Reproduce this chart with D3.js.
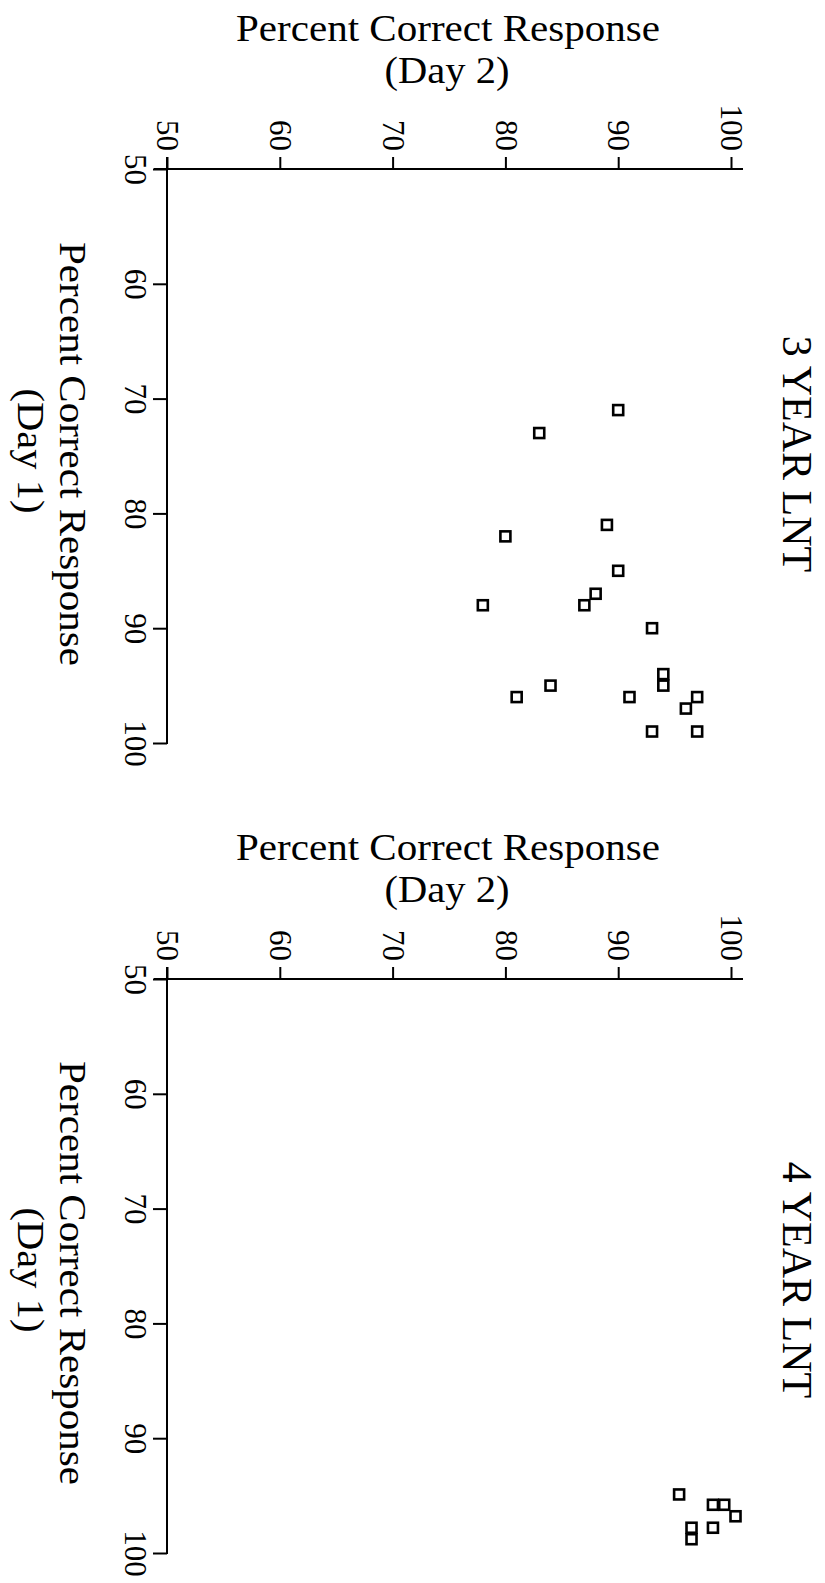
<!DOCTYPE html>
<html>
<head>
<meta charset="utf-8">
<style>
  body { margin: 0; background: #fff; }
  text { font-family: "Liberation Serif", "Times New Roman", serif; fill: #000; }
</style>
</head>
<body>
<script src="https://d3js.org/d3.v7.min.js"></script>
<script>
// tick values shared by both axes
var day1Ticks = [50, 60, 70, 80, 90, 100];
var day2Ticks = [50, 60, 70, 80, 90, 100];

// 3 year LNT: percent correct, day 1 and day 2
var lnt3Day1 = [71, 73, 81, 82, 85, 87, 88, 88, 90, 94, 95, 95, 96, 96, 96, 97, 99, 99];
var lnt3Day2 = [90, 83, 89, 80, 90, 88, 87, 78, 93, 94, 94, 84, 81, 91, 97, 96, 93, 97];

// 4 year LNT
var lnt4Day1 = [94.9, 95.8, 95.8, 96.8, 97.8, 97.8, 98.8];
var lnt4Day2 = [95.4, 98.4, 99.4, 100.4, 98.4, 96.5, 96.5];

var panelTitles = ["3 YEAR LNT", "4 YEAR LNT"];
var axisTitle = "Percent Correct Response";

var W = 825, H = 1583;
var svg = d3.select("body").append("svg")
  .attr("width", W).attr("height", H);

var panels = [
  { title: panelTitles[0], day1: lnt3Day1, day2: lnt3Day2, y0: 169, shift: 0, tshift: 0 },
  { title: panelTitles[1], day1: lnt4Day1, day2: lnt4Day2, y0: 979, shift: 819, tshift: 826 }
];

// the whole figure is printed turned 90 degrees clockwise:
// Day 2 runs left->right along the top, Day 1 runs top->down on the left
panels.forEach(function(p) {
  var x = d3.scaleLinear().domain([50, 100]).range([167, 731]);
  var y = d3.scaleLinear().domain([50, 100]).range([p.y0, p.y0 + 574]);
  var g = svg.append("g");

  // Day 2 axis (top)
  var top = g.append("g")
    .attr("transform", "translate(0," + p.y0 + ")")
    .call(d3.axisTop(x).tickValues(day2Ticks).tickSize(12).tickSizeOuter(0));
  top.select(".domain").remove();
  top.selectAll(".tick line").attr("stroke", "#000").attr("stroke-width", 2);
  top.selectAll(".tick text")
    .attr("font-size", 31)
    .attr("text-anchor", "end")
    .attr("transform", "rotate(90)")
    .attr("x", -18).attr("y", 0).attr("dy", "0.33em");

  // Day 1 axis (left)
  var left = g.append("g")
    .attr("transform", "translate(167,0)")
    .call(d3.axisLeft(y).tickValues(day1Ticks).tickSize(14).tickSizeOuter(0));
  left.select(".domain").remove();
  left.selectAll(".tick line").attr("stroke", "#000").attr("stroke-width", 2);
  left.selectAll(".tick text")
    .attr("font-size", 31)
    .attr("text-anchor", "middle")
    .attr("transform", "rotate(90)")
    .attr("x", 0).attr("y", 42).attr("dy", 0);

  // axis lines, crossing at the origin
  g.append("line")
    .attr("x1", x(50) - 13).attr("x2", x(100) + 12)
    .attr("y1", p.y0).attr("y2", p.y0)
    .attr("stroke", "#000").attr("stroke-width", 2);
  g.append("line")
    .attr("x1", 167).attr("x2", 167)
    .attr("y1", y(50) - 12).attr("y2", y(100) + 1)
    .attr("stroke", "#000").attr("stroke-width", 2);

  // Day 2 title (horizontal on the page)
  g.append("text").attr("x", 448).attr("y", 41 + p.shift)
    .attr("text-anchor", "middle").attr("font-size", 37)
    .attr("textLength", 424).attr("lengthAdjust", "spacingAndGlyphs").text(axisTitle);
  g.append("text").attr("x", 447).attr("y", 83 + p.shift)
    .attr("text-anchor", "middle").attr("font-size", 37)
    .attr("textLength", 125).attr("lengthAdjust", "spacingAndGlyphs").text("(Day 2)");

  // Day 1 title (turned)
  g.append("text").attr("transform", "translate(60," + (454 + p.shift) + ") rotate(90)")
    .attr("text-anchor", "middle").attr("font-size", 37)
    .attr("textLength", 424).attr("lengthAdjust", "spacingAndGlyphs").text(axisTitle);
  g.append("text").attr("transform", "translate(18," + (451 + p.shift) + ") rotate(90)")
    .attr("text-anchor", "middle").attr("font-size", 37)
    .attr("textLength", 125).attr("lengthAdjust", "spacingAndGlyphs").text("(Day 1)");

  // panel title
  g.append("text").attr("transform", "translate(783," + (454 + p.tshift) + ") rotate(90)")
    .attr("text-anchor", "middle").attr("font-size", 42).text(p.title);

  // open square markers
  g.selectAll("rect.pt")
    .data(d3.zip(p.day1, p.day2))
    .enter().append("rect")
    .attr("class", "pt")
    .attr("x", function(d) { return x(d[1]) - 5; })
    .attr("y", function(d) { return y(d[0]) - 5; })
    .attr("width", 10).attr("height", 10)
    .attr("fill", "#fff").attr("stroke", "#000").attr("stroke-width", 2.6);
});
</script>
</body>
</html>
